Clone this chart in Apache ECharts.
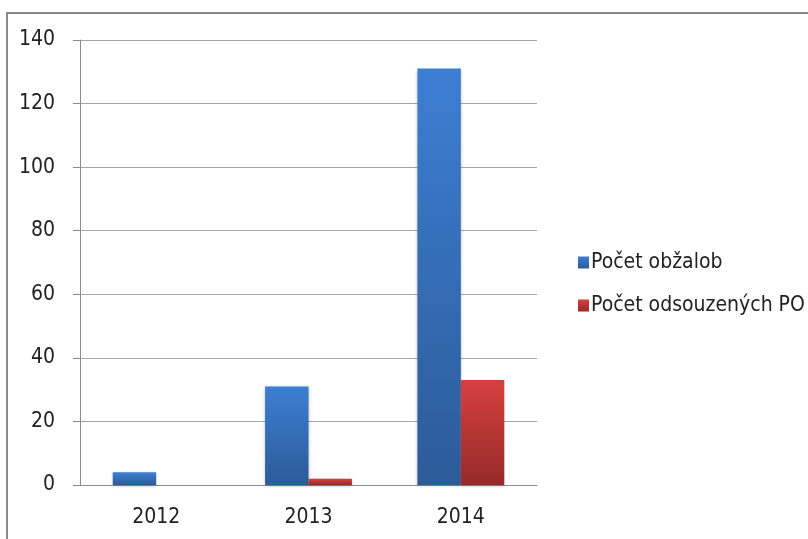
<!DOCTYPE html>
<html>
<head>
<meta charset="utf-8">
<script src="https://cdn.jsdelivr.net/npm/echarts@6/dist/echarts.min.js"></script>
<style>
  html, body { margin: 0; padding: 0; background: #fff; }
  #chart { width: 808px; height: 539px; }
</style>
</head>
<body>
<div id="chart"></div>
<script>
const years = ['2012', '2013', '2014']
const obzaloby = [4, 31, 131]
const odsouzeni = [0, 2, 33]
const seriesNames = ['Počet obžalob', 'Počet odsouzených PO']

const font = '"Liberation Sans Narrow", "DejaVu Sans Condensed", sans-serif'

const grad = (top, bottom) => new echarts.graphic.LinearGradient(0, 0, 0, 1, [
  { offset: 0, color: top },
  { offset: 1, color: bottom }
])

const chart = echarts.init(document.getElementById('chart'))

chart.setOption({
  backgroundColor: '#fff',
  animation: false,
  graphic: [{
    type: 'rect',
    shape: { x: 7, y: 13, width: 820, height: 560 },
    style: { fill: 'none', stroke: '#8a8a8a', lineWidth: 2 },
    silent: true
  }],
  grid: { left: 80, top: 40, right: 271, bottom: 54 },
  legend: {
    orient: 'vertical',
    left: 573,
    top: 247,
    icon: 'rect',
    itemWidth: 11,
    itemHeight: 12,
    itemGap: 22,
    textStyle: { fontFamily: font, fontSize: 21, color: '#222', padding: [0, 0, 0, -3] },
    data: seriesNames
  },
  xAxis: {
    type: 'category',
    data: years,
    axisLine: { lineStyle: { color: '#8c8c8c', width: 1 } },
    axisTick: { length: 7, lineStyle: { color: '#8c8c8c' } },
    axisLabel: { fontFamily: font, fontSize: 21, color: '#222', margin: 22 }
  },
  yAxis: {
    type: 'value',
    min: 0,
    max: 140,
    interval: 20,
    axisLine: { show: true, lineStyle: { color: '#8c8c8c', width: 1 } },
    axisTick: { show: true, length: 7, lineStyle: { color: '#8c8c8c' } },
    axisLabel: { fontFamily: font, fontSize: 21, color: '#222', margin: 25 },
    splitLine: { lineStyle: { color: '#a6a6a6', width: 1 } }
  },
  series: [
    {
      name: seriesNames[0],
      type: 'bar',
      data: obzaloby,
      barGap: '0%',
      barCategoryGap: '43%',
      itemStyle: {
        color: grad('#3d7ed3', '#2c5b98'),
        shadowColor: 'rgba(0,0,0,0.25)',
        shadowBlur: 3,
        shadowOffsetY: 1
      }
    },
    {
      name: seriesNames[1],
      type: 'bar',
      data: odsouzeni,
      itemStyle: {
        color: grad('#d6403e', '#952a2a'),
        shadowColor: 'rgba(0,0,0,0.25)',
        shadowBlur: 3,
        shadowOffsetY: 1
      }
    }
  ]
})
</script>
</body>
</html>
